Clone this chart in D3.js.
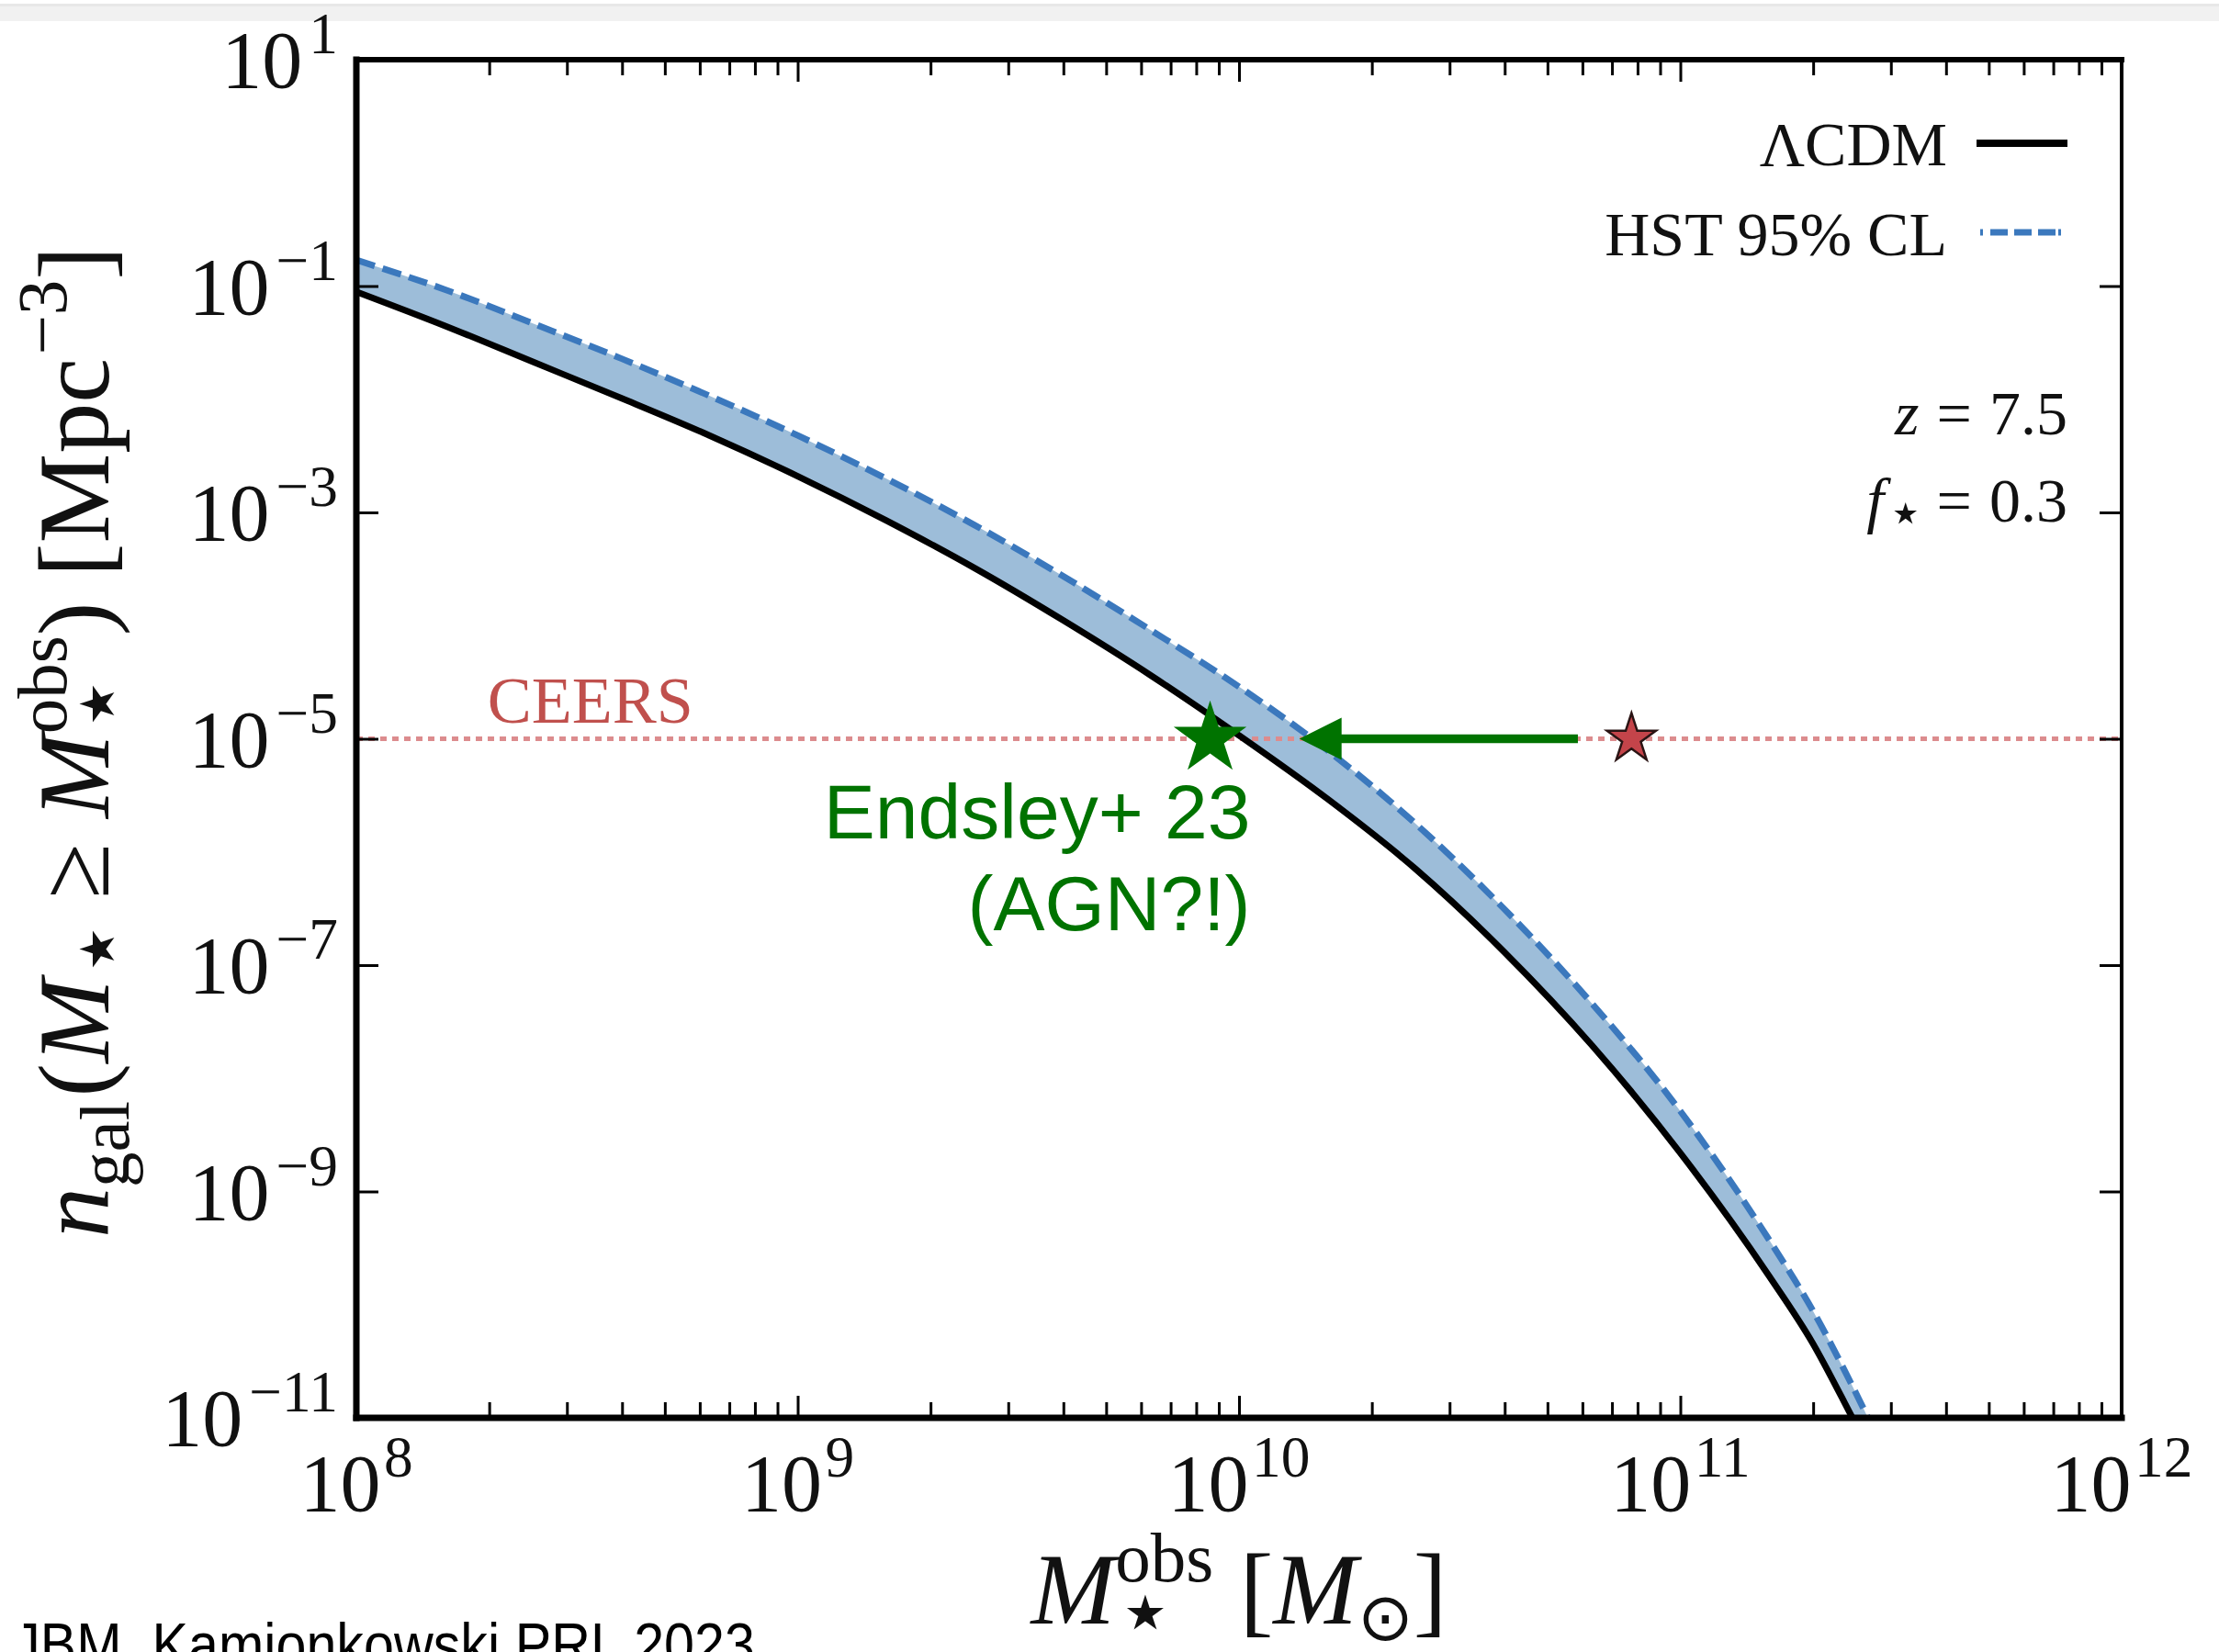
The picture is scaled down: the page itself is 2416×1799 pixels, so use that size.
<!DOCTYPE html>
<html>
<head>
<meta charset="utf-8">
<script src="https://cdn.jsdelivr.net/npm/d3@7"></script>
<style>
  html, body { margin: 0; padding: 0; background: #fff; }
  svg { display: block; }
</style>
</head>
<body>
<svg id="chart" width="2416" height="1799"></svg>
<script>
// cumulative number density of galaxies above stellar mass, z = 7.5, f* = 0.3
// masses in log10(M_sun), densities in log10(Mpc^-3)

const logMass   = [8.0, 8.2, 8.4, 8.6, 8.8, 9.0, 9.2, 9.4, 9.6, 9.8, 10.0, 10.2, 10.4, 10.6, 10.8, 11.0, 11.2, 11.3, 11.39, 11.45];
const logN_LCDM = [-1.05, -1.35, -1.67, -1.99, -2.32, -2.68, -3.07, -3.49, -3.95, -4.44, -4.97, -5.53, -6.15, -6.88, -7.71, -8.66, -9.74, -10.34, -11.0, -11.45];
const logN_HST  = [-0.77, -1.03, -1.33, -1.64, -1.97, -2.32, -2.70, -3.11, -3.56, -4.04, -4.54, -5.10, -5.75, -6.50, -7.34, -8.29, -9.42, -10.05, -10.72, -11.2];

const ceersDensity = 1e-5;
const ceersMass = 7.75e10;      // red star
const endsleyMass = 8.6e9;      // green star
const arrowFrom = 5.86e10;
const arrowTo = 1.37e10;

const legendLabels = ["\u039BCDM", "HST 95% CL"];
const xDecades = [8, 9, 10, 11, 12];
const yExponents = [1, -1, -3, -5, -7, -9, -11];

const serif = "'Liberation Serif', 'DejaVu Serif', serif";
const sans = "'Liberation Sans', Arial, sans-serif";
const starFont = "'DejaVu Sans', sans-serif";
const ink = "#111";
const bandFill = "#9dbdd9";
const hstBlue = "#3b78bd";
const ceersRed = "#c0504d";
const green = "#007300";

const svg = d3.select("#chart");
const W = 2416, H = 1799;
const plot = {left: 388, right: 2310, top: 65, bottom: 1544};

const x = d3.scaleLog().domain([1e8, 1e12]).range([plot.left, plot.right]);
const y = d3.scaleLog().domain([1e-11, 1e1]).range([plot.bottom, plot.top]);

// little helper that lays out TeX-ish text piece by piece
function mathText(parent, parts, o) {
    const size = o.size, sx = o.sx || 1;
    const outer = parent.append("g")
        .attr("transform", `translate(${o.x},${o.y})` + (o.rotate ? ` rotate(${o.rotate})` : ""));
    const inner = outer.append("g");
    let cursor = 0, prevStart = 0, maxEnd = 0;
    parts.forEach(p => {
        const s = (p.s || 1) * size;
        const start = p.back ? prevStart : cursor + (p.gap || 0) * size;
        const t = inner.append("text")
            .attr("x", start)
            .attr("y", (p.dy || 0) * size)
            .attr("font-size", s)
            .attr("font-style", p.it ? "italic" : null)
            .attr("font-family", p.family || o.family || serif)
            .attr("fill", o.fill || ink)
            .text(p.t);
        const end = start + t.node().getComputedTextLength() + (p.after || 0) * size;
        if (!p.back) prevStart = start;
        cursor = p.back ? Math.max(cursor, end) : end;
        maxEnd = Math.max(maxEnd, end);
    });
    const shift = o.anchor === "end" ? -maxEnd : o.anchor === "middle" ? -maxEnd / 2 : 0;
    inner.attr("transform", `scale(${sx},1) translate(${shift},0)`);
    return outer;
}

// page chrome: light grey strip at the very top
svg.append("rect").attr("x", 0).attr("y", 4).attr("width", W).attr("height", 19).attr("fill", "#f1f1f1");
svg.append("rect").attr("x", 0).attr("y", 4).attr("width", W).attr("height", 3).attr("fill", "#e8e8e8");

svg.append("clipPath").attr("id", "plotclip").append("rect")
    .attr("x", plot.left).attr("y", plot.top)
    .attr("width", plot.right - plot.left).attr("height", plot.bottom - plot.top);

const rows = logMass.map((m, i) => ({m: Math.pow(10, m), lo: Math.pow(10, logN_LCDM[i]), hi: Math.pow(10, logN_HST[i])}));

const gData = svg.append("g").attr("clip-path", "url(#plotclip)");

// HST band
gData.append("path")
    .datum(rows)
    .attr("fill", bandFill)
    .attr("d", d3.area().curve(d3.curveMonotoneX)
        .x(d => x(d.m)).y0(d => y(d.lo)).y1(d => y(d.hi)));

// CEERS dotted line
gData.append("line")
    .attr("x1", plot.left).attr("x2", plot.right)
    .attr("y1", y(ceersDensity)).attr("y2", y(ceersDensity))
    .attr("stroke", "#dc8c8e").attr("stroke-width", 5).attr("stroke-dasharray", "7 6");

// LCDM
gData.append("path")
    .datum(rows)
    .attr("fill", "none").attr("stroke", "#000").attr("stroke-width", 7)
    .attr("d", d3.line().curve(d3.curveMonotoneX).x(d => x(d.m)).y(d => y(d.lo)));

// HST 95% upper edge
gData.append("path")
    .datum(rows)
    .attr("fill", "none").attr("stroke", hstBlue).attr("stroke-width", 7)
    .attr("stroke-dasharray", "21 9")
    .attr("d", d3.line().curve(d3.curveMonotoneX).x(d => x(d.m)).y(d => y(d.hi)));

// arrow from the CEERS point to the curve
const ay = y(ceersDensity);
const headLen = 46, headHalf = 23;
svg.append("line")
    .attr("x1", x(arrowFrom)).attr("x2", x(arrowTo) + headLen - 2)
    .attr("y1", ay).attr("y2", ay)
    .attr("stroke", green).attr("stroke-width", 9.5);
svg.append("path")
    .attr("fill", green)
    .attr("d", `M${x(arrowTo)},${ay} L${x(arrowTo) + headLen},${ay - headHalf} L${x(arrowTo) + headLen},${ay + headHalf} Z`);

// stars
svg.append("path")
    .attr("transform", `translate(${x(ceersMass)},${y(ceersDensity)})`)
    .attr("d", d3.symbol(d3.symbolStar, 880)())
    .attr("fill", "#c4444a").attr("stroke", "#2a1414").attr("stroke-width", 2.5);
svg.append("path")
    .attr("transform", `translate(${x(endsleyMass)},${y(ceersDensity)})`)
    .attr("d", d3.symbol(d3.symbolStar, 1950)())
    .attr("fill", green);

// Endsley annotation
const ex = x(endsleyMass) + 44, ey = y(ceersDensity);
svg.append("text").attr("x", ex).attr("y", ey + 108)
    .attr("text-anchor", "end").attr("font-family", sans).attr("font-size", 84)
    .attr("fill", green).text("Endsley+ 23");
svg.append("text").attr("x", ex).attr("y", ey + 208)
    .attr("text-anchor", "end").attr("font-family", sans).attr("font-size", 84)
    .attr("fill", green).text("(AGN?!)");

// CEERS label
svg.append("text").attr("x", x(2e8) - 2).attr("y", y(ceersDensity) - 18)
    .attr("font-family", serif).attr("font-size", 72).attr("fill", ceersRed)
    .text("CEERS");

// ticks through d3 axes (inward), labels drawn separately
const xMajor = xDecades.map(e => Math.pow(10, e));
const xMinor = [];
xDecades.slice(0, -1).forEach(e => d3.range(2, 10).forEach(k => xMinor.push(k * Math.pow(10, e))));
const yMajor = yExponents.map(e => Math.pow(10, e));

function tickAxis(axis, transform) {
    const g = svg.append("g").attr("transform", transform).call(axis);
    g.select(".domain").remove();
    g.selectAll(".tick text").remove();
    g.selectAll(".tick line").attr("stroke", "#000").attr("stroke-width", 3);
    return g;
}
tickAxis(d3.axisBottom(x).tickValues(xMajor).tickSize(-24), `translate(0,${plot.bottom})`);
tickAxis(d3.axisBottom(x).tickValues(xMinor).tickSize(-17), `translate(0,${plot.bottom})`);
tickAxis(d3.axisTop(x).tickValues(xMajor).tickSize(-24), `translate(0,${plot.top})`);
tickAxis(d3.axisTop(x).tickValues(xMinor).tickSize(-17), `translate(0,${plot.top})`);
tickAxis(d3.axisLeft(y).tickValues(yMajor).tickSize(-24), `translate(${plot.left},0)`);
tickAxis(d3.axisRight(y).tickValues(yMajor).tickSize(-24), `translate(${plot.right},0)`);

// frame
const frame = svg.append("g").attr("stroke", "#000").attr("stroke-linecap", "square");
frame.append("line").attr("x1", plot.left).attr("x2", plot.right).attr("y1", plot.top).attr("y2", plot.top).attr("stroke-width", 6);
frame.append("line").attr("x1", plot.left).attr("x2", plot.right).attr("y1", plot.bottom).attr("y2", plot.bottom).attr("stroke-width", 7);
frame.append("line").attr("x1", plot.left).attr("x2", plot.left).attr("y1", plot.top).attr("y2", plot.bottom).attr("stroke-width", 7);
frame.append("line").attr("x1", plot.right).attr("x2", plot.right).attr("y1", plot.top).attr("y2", plot.bottom).attr("stroke-width", 4);

// tick labels
const tickSize = 88;
const minus = "\u2212";
xDecades.forEach(e => {
    mathText(svg, [{t: "10"}, {t: String(e), s: 0.72, dy: -0.42, gap: 0.04}],
        {x: x(Math.pow(10, e)), y: 1645, size: tickSize, anchor: "middle"});
});
yExponents.forEach(e => {
    const ex = e < 0 ? minus + Math.abs(e) : String(e);
    mathText(svg, [{t: "10"}, {t: ex, s: 0.72, dy: -0.42, gap: 0.08}],
        {x: 368, y: y(Math.pow(10, e)) + 30, size: tickSize, anchor: "end"});
});

// axis labels
const labSize = 110;
mathText(svg, [
    {t: "M", it: true},
    {t: "\u22C6", s: 0.95, dy: 0.2, family: starFont},
    {t: "obs", s: 0.7, dy: -0.42, back: true},
    {t: "[", gap: 0.26},
    {t: "M", it: true},
    {t: "\u2299", s: 0.66, dy: 0.16, family: starFont},
    {t: "]"}
], {x: (plot.left + plot.right) / 2, y: 1768, size: labSize, anchor: "middle"});

mathText(svg, [
    {t: "n", it: true},
    {t: "gal", s: 0.7, dy: 0.2},
    {t: "(", gap: 0.04},
    {t: "M", it: true},
    {t: "\u22C6", s: 0.95, dy: 0.2, family: starFont},
    {t: "\u2265", gap: 0.2},
    {t: "M", it: true, gap: 0.25},
    {t: "\u22C6", s: 0.95, dy: 0.2, family: starFont},
    {t: "obs", s: 0.7, dy: -0.42, back: true},
    {t: ")"},
    {t: "[", gap: 0.25},
    {t: "Mpc"},
    {t: minus + "3", s: 0.7, dy: -0.42, gap: 0.03},
    {t: "]"}
], {x: 118, y: 808, size: labSize, anchor: "middle", rotate: -90});

// legend
const legSize = 68;
const legRight = 2120;
svg.append("text").attr("x", legRight).attr("y", 180).attr("text-anchor", "end")
    .attr("font-family", serif).attr("font-size", legSize).attr("fill", ink).text(legendLabels[0]);
svg.append("line").attr("x1", 2152).attr("x2", 2251).attr("y1", 156).attr("y2", 156)
    .attr("stroke", "#000").attr("stroke-width", 8);
svg.append("text").attr("x", legRight).attr("y", 278).attr("text-anchor", "end")
    .attr("font-family", serif).attr("font-size", legSize).attr("fill", ink).text(legendLabels[1]);
svg.append("line").attr("x1", 2156).attr("x2", 2244).attr("y1", 253).attr("y2", 253)
    .attr("stroke", hstBlue).attr("stroke-width", 7).attr("stroke-dasharray", "3 8 19 7 19 7 19");

// parameters
mathText(svg, [{t: "z", it: true}, {t: "=", gap: 0.28}, {t: "7.5", gap: 0.28}],
    {x: 2251, y: 473, size: legSize, anchor: "end"});
mathText(svg, [{t: "f", it: true, after: 0.05}, {t: "\u22C6", s: 0.95, dy: 0.18, family: starFont},
    {t: "=", gap: 0.2}, {t: "0.3", gap: 0.28}],
    {x: 2251, y: 568, size: legSize, anchor: "end"});

// credit, cut by the bottom of the page as in the source image
svg.append("text").attr("x", 14).attr("y", 1814)
    .attr("font-family", sans).attr("font-size", 66).attr("fill", "#000")
    .attr("textLength", 808).attr("lengthAdjust", "spacingAndGlyphs")
    .text("JBM, Kamionkowski PRL 2023");
</script>
</body>
</html>
